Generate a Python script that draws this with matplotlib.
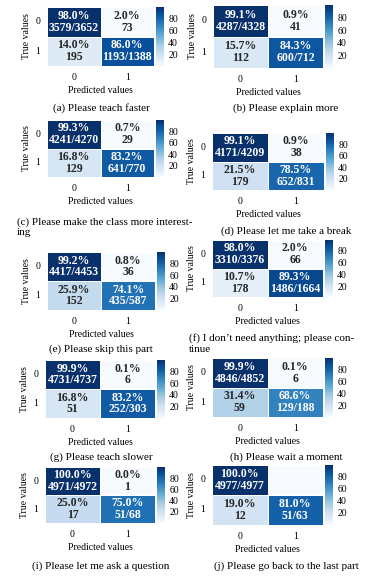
import numpy as np
import matplotlib.pyplot as plt
import seaborn as sns

plt.rcParams['font.family'] = ['Liberation Serif', 'DejaVu Serif']

# percentages per panel: [[TN, FP], [FN, TP]]
pct_a = [[98.0, 2.0], [14.0, 86.0]]
pct_b = [[99.1, 0.9], [15.7, 84.3]]
pct_c = [[99.3, 0.7], [16.8, 83.2]]
pct_d = [[99.1, 0.9], [21.5, 78.5]]
pct_e = [[99.2, 0.8], [25.9, 74.1]]
pct_f = [[98.0, 2.0], [10.7, 89.3]]
pct_g = [[99.9, 0.1], [16.8, 83.2]]
pct_h = [[99.9, 0.1], [31.4, 68.6]]
pct_i = [[100.0, 0.0], [25.0, 75.0]]
pct_j = [[100.0, 0.0], [19.0, 81.0]]

# counts shown under the percentages
cnt_a = [["3579/3652", "73"], ["195", "1193/1388"]]
cnt_b = [["4287/4328", "41"], ["112", "600/712"]]
cnt_c = [["4241/4270", "29"], ["129", "641/770"]]
cnt_d = [["4171/4209", "38"], ["179", "652/831"]]
cnt_e = [["4417/4453", "36"], ["152", "435/587"]]
cnt_f = [["3310/3376", "66"], ["178", "1486/1664"]]
cnt_g = [["4731/4737", "6"], ["51", "252/303"]]
cnt_h = [["4846/4852", "6"], ["59", "129/188"]]
cnt_i = [["4971/4972", "1"], ["17", "51/68"]]
cnt_j = [["4977/4977", ""], ["12", "51/63"]]

captions = [
    "(a) Please teach faster",
    "(b) Please explain more",
    "(c) Please make the class more interest-\ning",
    "(d) Please let me take a break",
    "(e) Please skip this part",
    "(f) I don\u2019t need anything; please con-\ntinue",
    "(g) Please teach slower",
    "(h) Please wait a moment",
    "(i) Please let me ask a question",
    "(j) Please go back to the last part",
]
tick_labels = ["0", "1"]

pcts = [pct_a, pct_b, pct_c, pct_d, pct_e, pct_f, pct_g, pct_h, pct_i, pct_j]
cnts = [cnt_a, cnt_b, cnt_c, cnt_d, cnt_e, cnt_f, cnt_g, cnt_h, cnt_i, cnt_j]

# heatmap boxes in pixels (x0, y0, x1, y1) and caption y
boxes = [
    (47, 7, 154, 66), (213, 5, 323, 68),
    (47, 120, 154, 177), (212, 133, 324, 190),
    (47, 252, 155, 310), (212, 240, 323, 297),
    (45, 360, 155, 418), (212, 358, 323, 417),
    (45, 467, 155, 523), (212, 465, 323, 525),
]
cap_y = [108, 108, 222, 231, 349, 338, 457, 457, 566, 566]

W, H = 373, 577
fig = plt.figure(figsize=(W / 100, H / 100), dpi=100)


def px(x0, y0, x1, y1):
    return [x0 / W, 1 - y1 / H, (x1 - x0) / W, (y1 - y0) / H]


for k in range(10):
    pct = np.array(pcts[k])
    cnt = cnts[k]
    ann = np.empty((2, 2), dtype=object)
    for r in range(2):
        for c in range(2):
            ann[r, c] = "" if cnt[r][c] == "" else f"{pct[r, c]:.1f}%\n{cnt[r][c]}"
    x0, y0, x1, y1 = boxes[k]
    ax = fig.add_axes(px(x0, y0, x1, y1))
    cax = fig.add_axes(px(x1 + 2, y0, x1 + 10, y1))
    sns.heatmap(pct, annot=ann, fmt="", cmap="Blues", ax=ax, cbar_ax=cax,
                linewidths=0.4, linecolor="white",
                xticklabels=tick_labels, yticklabels=tick_labels,
                cbar_kws={"ticks": [20, 40, 60, 80]},
                annot_kws={"fontsize": 8.5, "fontweight": "bold",
                           "linespacing": 0.95})
    ax.set_xlabel("Predicted values", fontsize=7, labelpad=3)
    ax.set_ylabel("True values", fontsize=7, labelpad=3)
    ax.tick_params(labelsize=7, length=0, pad=5)
    plt.setp(ax.get_yticklabels(), rotation=0)
    cax.tick_params(labelsize=7, length=0, pad=3)

    text = captions[k]
    colx = 101 if k % 2 == 0 else 286
    if "\n" in text:
        lines = text.split("\n")
        lx = 17 if k % 2 == 0 else 189
        fig.text(lx / W, 1 - cap_y[k] / H, lines[0], ha="left", va="center", fontsize=8)
        fig.text(lx / W, 1 - (cap_y[k] + 11) / H, lines[1], ha="left", va="center", fontsize=8)
    else:
        fig.text(colx / W, 1 - cap_y[k] / H, text, ha="center", va="center", fontsize=8)

fig.savefig("out.png", dpi=100)
